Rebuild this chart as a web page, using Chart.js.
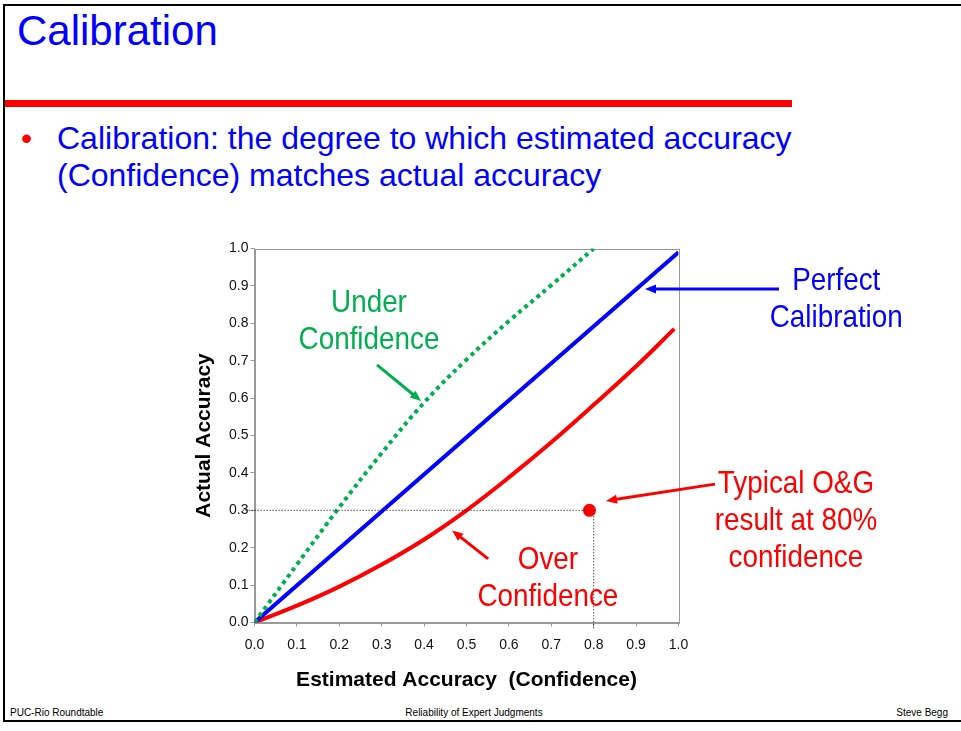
<!DOCTYPE html>
<html>
<head>
<meta charset="utf-8">
<script src="https://cdn.jsdelivr.net/npm/chart.js@4.4.1/dist/chart.umd.min.js"></script>
<style>
    body { margin: 0; background: #fff; width: 961px; height: 731px; overflow: hidden; position: relative;
           font-family: "Liberation Sans", Arial, sans-serif; }
    #ramka { position: absolute; left: 3px; top: 4px; width: 1000px; height: 718px; border: 2px solid #000; box-sizing: border-box; }
    #tytul { position: absolute; left: 17px; top: 10px; font-size: 42px; line-height: 41px; color: #0000ff; }
    #pasek { position: absolute; left: 5px; top: 100px; width: 787px; height: 7px; background: #ff0000; }
    #punkt { position: absolute; left: 21px; top: 120px; font-size: 32px; line-height: 37px; color: #ff0000; }
    #tekst { position: absolute; left: 57px; top: 120px; font-size: 32px; line-height: 37px; color: #0000ff; white-space: nowrap; }
    .stopka { position: absolute; top: 707px; font-size: 10px; line-height: 12px; color: #000; }
    #wykres { position: absolute; left: 190px; top: 230px; }
</style>
</head>
<body>
<div id="ramka"></div>
<div id="tytul">Calibration</div>
<div id="pasek"></div>
<div id="punkt">•</div>
<div id="tekst">Calibration: the degree to which estimated accuracy<br>(Confidence) matches actual accuracy</div>
<div class="stopka" style="left: 10px;">PUC-Rio Roundtable</div>
<div class="stopka" style="left: 400px; width: 148px; text-align: center;">Reliability of Expert Judgments</div>
<div class="stopka" style="right: 13px;">Steve Begg</div>
<canvas id="wykres" width="771" height="470"></canvas>

<script>
// dane
const idealnaX = [0, 1.0];
const idealnaY = [0, 0.99];

const nadmiernaX = [0, 0.1, 0.2, 0.3, 0.4, 0.5, 0.6, 0.7, 0.8, 0.9, 0.99];
const nadmiernaY = [0, 0.045, 0.096, 0.155, 0.222, 0.300, 0.388, 0.482, 0.582, 0.685, 0.785];

const niedostatecznaX = [0, 0.1, 0.2, 0.3, 0.4, 0.5, 0.6, 0.7, 0.8];
const niedostatecznaY = [0, 0.155, 0.308, 0.453, 0.588, 0.703, 0.806, 0.902, 1.0];

const typowyX = [0.79];
const typowyY = [0.3];

const poziomaX = [-0.028, 0.79];
const poziomaY = [0.3, 0.3];
const pionowaX = [0.8, 0.8];
const pionowaY = [0.3, -0.016];

const etykietyTickow = ['0.0', '0.1', '0.2', '0.3', '0.4', '0.5', '0.6', '0.7', '0.8', '0.9', '1.0'];

const napisy = [
    { tekst: 'Under', x: 0.270, y: 0.862, kolor: '#00b050' },
    { tekst: 'Confidence', x: 0.270, y: 0.763, kolor: '#00b050' },
    { tekst: 'Perfect', x: 1.372, y: 0.921, kolor: '#0000ff' },
    { tekst: 'Calibration', x: 1.372, y: 0.820, kolor: '#0000ff' },
    { tekst: 'Typical O&G', x: 1.277, y: 0.376, kolor: '#ff0000' },
    { tekst: 'result at 80%', x: 1.277, y: 0.277, kolor: '#ff0000' },
    { tekst: 'confidence', x: 1.277, y: 0.178, kolor: '#ff0000' },
    { tekst: 'Over', x: 0.692, y: 0.175, kolor: '#ff0000' },
    { tekst: 'Confidence', x: 0.692, y: 0.076, kolor: '#ff0000' }
];

const strzalki = [
    { od: [1.237, 0.892], do: [0.921, 0.892], kolor: '#0000ff' },
    { od: [0.289, 0.689], do: [0.393, 0.592], kolor: '#00b050' },
    { od: [0.551, 0.170], do: [0.466, 0.246], kolor: '#ff0000' },
    { od: [1.086, 0.370], do: [0.829, 0.325], kolor: '#ff0000' }
];

function punkty(xs, ys) {
    return xs.map((x, i) => ({ x: x, y: ys[i] }));
}

function rysujStrzalke(ctx, x1, y1, x2, y2, kolor) {
    const kat = Math.atan2(y2 - y1, x2 - x1);
    const dl = 11, pol = 4.5;
    ctx.strokeStyle = kolor;
    ctx.fillStyle = kolor;
    ctx.lineWidth = 3;
    ctx.beginPath();
    ctx.moveTo(x1, y1);
    ctx.lineTo(x2 - Math.cos(kat) * dl * 0.8, y2 - Math.sin(kat) * dl * 0.8);
    ctx.stroke();
    ctx.beginPath();
    ctx.moveTo(x2, y2);
    ctx.lineTo(x2 - Math.cos(kat) * dl + Math.sin(kat) * pol, y2 - Math.sin(kat) * dl - Math.cos(kat) * pol);
    ctx.lineTo(x2 - Math.cos(kat) * dl - Math.sin(kat) * pol, y2 - Math.sin(kat) * dl + Math.cos(kat) * pol);
    ctx.closePath();
    ctx.fill();
}

const ramkaPlugin = {
    id: 'ramka',
    beforeDatasetsDraw(chart) {
        const { ctx, chartArea } = chart;
        ctx.save();
        ctx.strokeStyle = '#999999';
        ctx.lineWidth = 1;
        ctx.strokeRect(Math.round(chartArea.left) + 0.5, Math.round(chartArea.top) + 0.5,
            Math.round(chartArea.right - chartArea.left), Math.round(chartArea.bottom - chartArea.top));
        ctx.restore();
    }
};

const adnotacjePlugin = {
    id: 'adnotacje',
    afterDatasetsDraw(chart) {
        const { ctx } = chart;
        const sx = chart.scales.x, sy = chart.scales.y;
        ctx.save();
        strzalki.forEach(s => {
            rysujStrzalke(ctx,
                sx.getPixelForValue(s.od[0]), sy.getPixelForValue(s.od[1]),
                sx.getPixelForValue(s.do[0]), sy.getPixelForValue(s.do[1]), s.kolor);
        });
        napisy.forEach(n => {
            ctx.save();
            ctx.translate(sx.getPixelForValue(n.x), sy.getPixelForValue(n.y));
            ctx.scale(0.87, 1);
            ctx.font = '32px "Liberation Sans", Arial, sans-serif';
            ctx.fillStyle = n.kolor;
            ctx.textAlign = 'center';
            ctx.textBaseline = 'alphabetic';
            ctx.fillText(n.tekst, 0, 11.5);
            ctx.restore();
        });
        ctx.restore();
    }
};

const czcionkaTickow = { family: '"Liberation Sans", Arial, sans-serif', size: 14 };
const czcionkaTytulu = { family: '"Liberation Sans", Arial, sans-serif', size: 21, weight: 'bold' };

new Chart(document.getElementById('wykres'), {
    type: 'scatter',
    data: {
        datasets: [
            {
                data: punkty(poziomaX, poziomaY), showLine: true, clip: false,
                borderColor: '#000', borderWidth: 1, borderDash: [1, 2], pointRadius: 0
            },
            {
                data: punkty(pionowaX, pionowaY), showLine: true, clip: false,
                borderColor: '#000', borderWidth: 1, borderDash: [1, 2], pointRadius: 0
            },
            {
                label: 'Under Confidence',
                data: punkty(niedostatecznaX, niedostatecznaY), showLine: true,
                borderColor: '#00b050', borderWidth: 4, borderDash: [4, 4], borderCapStyle: 'butt',
                tension: 0.4, pointRadius: 0
            },
            {
                label: 'Perfect Calibration',
                data: punkty(idealnaX, idealnaY), showLine: true,
                borderColor: '#0000ff', borderWidth: 4, pointRadius: 0
            },
            {
                label: 'Over Confidence',
                data: punkty(nadmiernaX, nadmiernaY), showLine: true,
                borderColor: '#ff0000', borderWidth: 4,
                tension: 0.4, pointRadius: 0
            },
            {
                label: 'Typical O&G',
                data: punkty(typowyX, typowyY), showLine: false, clip: false,
                pointRadius: 6.5, pointBackgroundColor: '#ff0000', pointBorderColor: '#ff0000', pointBorderWidth: 0
            }
        ]
    },
    options: {
        responsive: false,
        animation: false,
        devicePixelRatio: 1,
        layout: { padding: { left: 0, top: 18.5, right: 282.5, bottom: 0 } },
        plugins: { legend: { display: false }, tooltip: { enabled: false } },
        scales: {
            x: {
                type: 'linear', min: 0, max: 1,
                afterFit: (s) => { s.height = 77.5; },
                grid: { drawOnChartArea: false, tickLength: 4, color: '#999999' },
                border: { color: '#999999' },
                ticks: {
                    stepSize: 0.1, padding: 10, color: '#111', font: czcionkaTickow, maxRotation: 0,
                    callback: (v, i) => etykietyTickow[i]
                },
                title: { display: true, text: 'Estimated Accuracy  (Confidence)', color: '#000',
                         font: czcionkaTytulu, padding: { top: 0, bottom: 7 } }
            },
            y: {
                type: 'linear', min: 0, max: 1,
                afterFit: (s) => { s.width = 64.5; },
                grid: { drawOnChartArea: false, tickLength: 4, color: '#999999' },
                border: { color: '#999999' },
                ticks: {
                    stepSize: 0.1, padding: 2, color: '#111', font: czcionkaTickow,
                    callback: (v, i) => etykietyTickow[i]
                },
                title: { display: true, text: 'Actual Accuracy', color: '#000',
                         font: czcionkaTytulu, padding: { top: 2, bottom: 0 } }
            }
        }
    },
    plugins: [ramkaPlugin, adnotacjePlugin]
});
</script>
</body>
</html>
